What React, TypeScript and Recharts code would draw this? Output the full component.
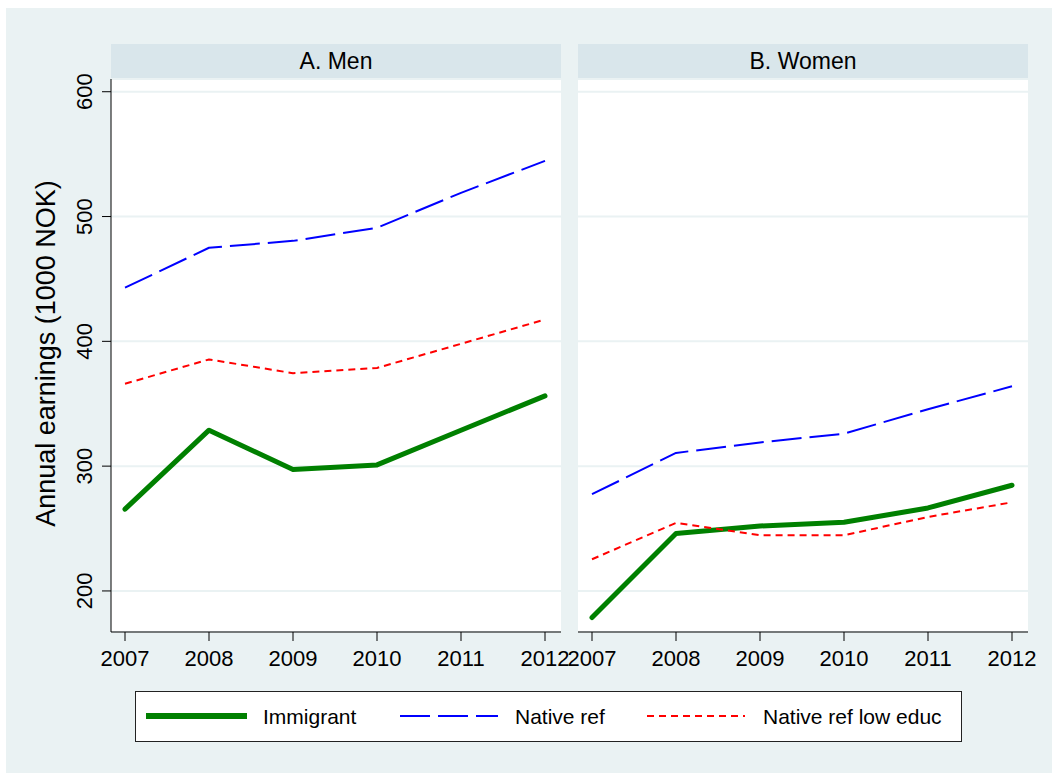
import { CartesianGrid, Line, LineChart, XAxis, YAxis } from "recharts";

const years = [2007, 2008, 2009, 2010, 2011, 2012];
const yTicks = [200, 300, 400, 500, 600];

// A. Men
const menImmigrant = [265.5, 328.8, 297.3, 301, 328.8, 356.3];
const menNative = [443, 475, 480.5, 491, 519, 544.6];
const menLowEduc = [366, 385.5, 374.5, 378.7, 398, 417.5];

// B. Women
const womenImmigrant = [178.7, 246, 252, 255, 266.5, 284.7];
const womenNative = [277.5, 310.6, 319, 326, 345.6, 364];
const womenLowEduc = [225.4, 254.5, 244.6, 244.6, 259.3, 271];

const panelTitles = ["A. Men", "B. Women"];
const seriesNames = ["Immigrant", "Native ref", "Native ref low educ"];
const yTitle = "Annual earnings (1000 NOK)";

const FONT = '"Liberation Sans", Arial, Helvetica, sans-serif';
const Y_DOMAIN: [number, number] = [167.1, 610.2];

const series = [
  { key: "immigrant", name: seriesNames[0], color: "#008000", width: 5, dash: undefined },
  { key: "native", name: seriesNames[1], color: "#0000ff", width: 2, dash: "30 8" },
  { key: "lowEduc", name: seriesNames[2], color: "#ff0000", width: 2, dash: "7 5" },
];

const menData = years.map((year, i) => ({
  year,
  immigrant: menImmigrant[i],
  native: menNative[i],
  lowEduc: menLowEduc[i],
}));

const womenData = years.map((year, i) => ({
  year,
  immigrant: womenImmigrant[i],
  native: womenNative[i],
  lowEduc: womenLowEduc[i],
}));

function YTick(props: any) {
  const { x, y, payload } = props;
  return (
    <text
      transform={`translate(${x - 10}, ${y}) rotate(-90)`}
      textAnchor="middle"
      fontSize={22}
      fill="#000"
      fontFamily={FONT}
    >
      {payload.value}
    </text>
  );
}

function YTitle(props: any) {
  const vb = props.viewBox;
  const cy = vb ? vb.y + vb.height / 2 : 355;
  return (
    <text
      transform={`translate(55, ${cy - 2}) rotate(-90)`}
      textAnchor="middle"
      fontSize={27}
      fill="#000"
      fontFamily={FONT}
    >
      {yTitle}
    </text>
  );
}

function Panel({ data, withY, width, left }: { data: any[]; withY: boolean; width: number; left: number }) {
  return (
    <LineChart width={width} height={700} data={data} margin={{ top: 79, right: 9, bottom: 0, left }}>
      <CartesianGrid vertical={false} stroke="#eaf2f3" strokeWidth={2} fill="#fff" fillOpacity={1} />
      <XAxis
        dataKey="year"
        type="number"
        domain={[2007, 2012]}
        ticks={years}
        interval={0}
        padding={{ left: 14, right: 16 }}
        height={68}
        axisLine={{ stroke: "#000" }}
        tickLine={{ stroke: "#000" }}
        tickSize={9}
        tickMargin={9}
        tick={{ fontSize: 22, fill: "#000", fontFamily: FONT }}
      />
      {withY ? (
        <YAxis
          width={111}
          domain={Y_DOMAIN}
          allowDataOverflow
          ticks={yTicks}
          interval={0}
          axisLine={{ stroke: "#000" }}
          tickLine={{ stroke: "#000" }}
          tickSize={9}
          tickMargin={0}
          tick={<YTick />}
          label={(p: any) => <YTitle {...p} />}
        />
      ) : (
        <YAxis hide width={0} domain={Y_DOMAIN} allowDataOverflow ticks={yTicks} interval={0} />
      )}
      {series.map((s) => (
        <Line
          key={s.key}
          type="linear"
          dataKey={s.key}
          name={s.name}
          stroke={s.color}
          strokeWidth={s.width}
          strokeDasharray={s.dash}
          strokeLinejoin="round"
          strokeLinecap={s.dash ? "butt" : "round"}
          dot={false}
          activeDot={false}
          isAnimationActive={false}
        />
      ))}
    </LineChart>
  );
}

const headerStyle = {
  position: "absolute" as const,
  top: 44,
  height: 35,
  background: "#d9e6eb",
  display: "flex",
  alignItems: "center",
  justifyContent: "center",
  fontSize: 23,
  fontFamily: FONT,
  color: "#000",
};

const legendSlots = [
  { x1: 11, x2: 112, tx: 128 },
  { x1: 265, x2: 363, tx: 380 },
  { x1: 512, x2: 610, tx: 628 },
];

export default function App() {
  return (
    <div style={{ position: "fixed", left: 0, top: 0, width: 1052, height: 773, background: "#fff", overflow: "hidden" }}>
      <div style={{ position: "absolute", left: 6, top: 8, width: 1046, height: 765, background: "#eaf2f3" }} />
      <div style={{ ...headerStyle, left: 111, width: 450 }}>{panelTitles[0]}</div>
      <div style={{ ...headerStyle, left: 578, width: 450 }}>{panelTitles[1]}</div>
      <div style={{ position: "absolute", left: 0, top: 0 }}>
        <Panel data={menData} withY={true} width={570} left={0} />
      </div>
      <div style={{ position: "absolute", left: 556, top: 0 }}>
        <Panel data={womenData} withY={false} width={481} left={22} />
      </div>
      <svg style={{ position: "absolute", left: 135, top: 691 }} width={827} height={51}>
        <rect x={0.5} y={0.5} width={826} height={50} fill="#fff" stroke="#222" strokeWidth={1} />
        {series.map((s, i) => (
          <g key={s.key}>
            <line
              x1={legendSlots[i].x1}
              x2={legendSlots[i].x2}
              y1={25}
              y2={25}
              stroke={s.color}
              strokeWidth={s.dash ? 2 : 6}
              strokeDasharray={s.dash}
            />
            <text x={legendSlots[i].tx} y={33} fontSize={21} fill="#000" fontFamily={FONT}>
              {s.name}
            </text>
          </g>
        ))}
      </svg>
    </div>
  );
}
